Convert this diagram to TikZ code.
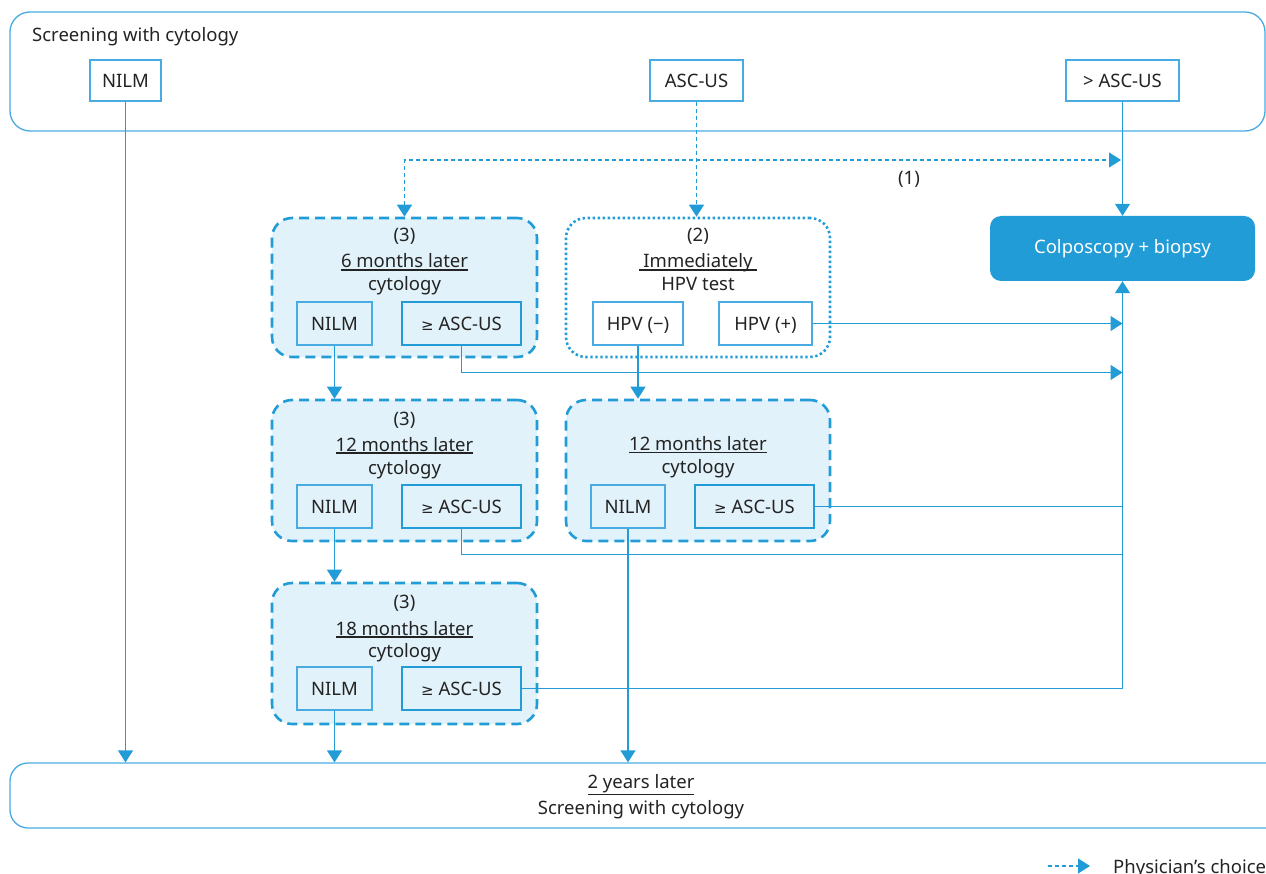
\documentclass[tikz,border=0pt]{standalone}
\usepackage{fontspec}
\setmainfont{Noto Sans}
\newfontfamily\symf{DejaVu Sans}
\usetikzlibrary{arrows.meta}
\definecolor{lb}{RGB}{33,156,215}
\definecolor{lbb}{RGB}{72,171,226}
\definecolor{fb}{RGB}{226,242,250}
\definecolor{tx}{RGB}{35,35,35}
\newcommand\myul[2][2.5pt]{\setbox0=\hbox{#2}\leavevmode\rlap{\rule[\dimexpr-\dp0-#1\relax]{\wd0}{1.4pt}}\box0}
\newcommand\mygeq{{\symf\fontsize{15}{18}\selectfont ≥}}
\begin{document}
\begin{tikzpicture}[x=1pt,y=-1pt,font=\fontsize{18.5}{21}\selectfont,text=tx,
  frame/.style={draw=lbb,line width=1.3pt,rounded corners=20pt},
  grp/.style={draw=lb,fill=fb,line width=2.6pt,dash pattern=on 10pt off 6pt,rounded corners=20pt},
  grpd/.style={draw=lb,line width=2.6pt,dash pattern=on 2.4pt off 2.6pt,rounded corners=20pt},
  sb/.style={draw=lbb,line width=1.3pt,inner sep=0pt,minimum height=41pt,text height=13.2pt,text depth=0pt},
  tb/.style={sb,draw=lb,line width=2.6pt,minimum height=43pt},
  conn/.style={draw=lb,line width=1.3pt},
  arr/.style={conn,-{Triangle[width=15pt,length=12pt]}},
  pc/.style={draw=lb,line width=1.2pt,dash pattern=on 4pt off 3pt},
  lbl/.style={inner sep=0pt,anchor=base}]
\useasboundingbox (0,0) rectangle (1266,874);

% frames
\node[frame,minimum width=1255pt,minimum height=119pt] (top) at (637.5,71.5) {};
\node[frame,rounded corners=18pt,minimum width=1280pt,minimum height=65pt] (bot) at (650,795.5) {};
\node[lbl,anchor=base west] (topt) at (32,42) {Screening with cytology};
\node[lbl] (bota) at (641,788) {\myul{2 years later}};
\node[lbl] (botb) at (641,814) {Screening with cytology};

% top row boxes
\node[sb,fill=white,minimum width=71pt] (n0) at (125.5,80.5) {NILM};
\node[sb,fill=white,minimum width=93pt] (asc) at (696.5,80.5) {ASC-US};
\node[sb,fill=white,minimum width=113pt] (gasc) at (1122.5,80.5) {> ASC-US};

% colposcopy
\node[fill=lb,rounded corners=11pt,minimum width=265pt,minimum height=65pt,inner sep=0pt,text=white,text height=13.2pt,text depth=4pt] (colp) at (1122.5,248.5) {Colposcopy + biopsy};

% groups
\node[grp,minimum width=265pt,minimum height=139pt] (g6) at (404.5,287.5) {};
\node[grpd,minimum width=264pt,minimum height=139pt] (g2) at (698,287.5) {};
\node[grp,minimum width=265pt,minimum height=141pt] (g12) at (404.5,470.5) {};
\node[grp,minimum width=264pt,minimum height=141pt] (g12r) at (698,470.5) {};
\node[grp,minimum width=265pt,minimum height=141pt] (g18) at (404.5,653.5) {};

% group texts
\node[lbl] (t6a) at (404.5,242) {(3)};
\node[lbl] (t6b) at (404.5,268) {\myul{6 months later}};
\node[lbl] (t6c) at (404.5,291) {cytology};
\node[lbl] (t2a) at (698,242) {(2)};
\node[lbl] (t2b) at (698,268) {\myul[-1.8pt]{\hspace{4pt}Immediately\hspace{4pt}}};
\node[lbl] (t2c) at (698,291) {HPV test};
\node[lbl] (t12a) at (404.5,425) {(3)};
\node[lbl] (t12b) at (404.5,451) {\myul{12 months later}};
\node[lbl] (t12c) at (404.5,474) {cytology};
\node[lbl] (t12rb) at (698,450.5) {\myul{12 months later}};
\node[lbl] (t12rc) at (698,473) {cytology};
\node[lbl] (t18a) at (404.5,608) {(3)};
\node[lbl] (t18b) at (404.5,635) {\myul{18 months later}};
\node[lbl] (t18c) at (404.5,657) {cytology};

% inner boxes
\node[sb,minimum width=75pt,minimum height=43pt] (n6) at (334.5,323.5) {NILM};
\node[tb,minimum width=119pt] (a6) at (461.5,323.5) {\mygeq\ ASC-US};
\node[sb,minimum width=90pt,minimum height=43pt] (hn) at (638,323.5) {HPV (−)};
\node[sb,minimum width=93pt,minimum height=43pt] (hp) at (765.5,323.5) {HPV (+)};
\node[sb,minimum width=75pt,minimum height=43pt] (n12) at (334.5,506.5) {NILM};
\node[tb,minimum width=119pt] (a12) at (461.5,506.5) {\mygeq\ ASC-US};
\node[sb,minimum width=74pt,minimum height=43pt] (n12r) at (628,506.5) {NILM};
\node[tb,minimum width=119pt] (a12r) at (754.5,506.5) {\mygeq\ ASC-US};
\node[sb,minimum width=75pt,minimum height=43pt] (n18) at (334.5,688.5) {NILM};
\node[tb,minimum width=119pt] (a18) at (461.5,688.5) {\mygeq\ ASC-US};

% connectors
\draw[arr] (n0.south) -- (n0.south |- bot.north);
\draw[pc,-{Triangle[width=15pt,length=12pt]}] (asc.south) -- (asc.south |- g2.north);
\coordinate (c1) at (1121,160);
\draw[pc,{Triangle[width=15pt,length=12pt]}-{Triangle[width=15pt,length=12pt]}] (g6.north) |- (c1);
\node[lbl] (l1) at (909,185) {(1)};
\draw[arr] (gasc.south) -- (colp.north);
\draw[arr] (a18.east) -| (colp.south);
\draw[arr] (hp.east) -- (colp.south |- hp.east);
\draw[arr] (a6.south) |- (colp.south |- 0,372.5);
\draw[conn] (a12r.east) -- (colp.south |- a12r.east);
\draw[conn] (a12.south) |- (colp.south |- 0,554.5);
\draw[arr] (n6.south) -- (n6.south |- g12.north);
\draw[arr] (hn.south) -- (hn.south |- g12r.north);
\draw[arr] (n12.south) -- (n12.south |- g18.north);
\draw[arr] (n18.south) -- (n18.south |- bot.north);
\draw[arr] (n12r.south) -- (n12r.south |- bot.north);

% legend
\coordinate (lg1) at (1048,866);
\coordinate (lg2) at (1090,866);
\draw[pc,-{Triangle[width=15pt,length=12pt]}] (lg1) -- (lg2);
\node[lbl,anchor=base west] (leg) at (1113,873) {Physician's choice};
\end{tikzpicture}
\end{document}
